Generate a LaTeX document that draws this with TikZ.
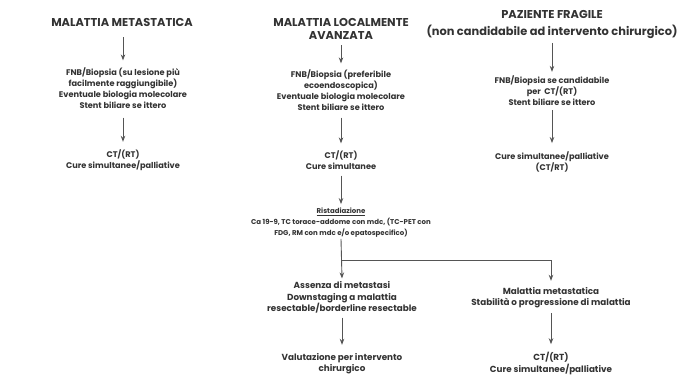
\documentclass[tikz,border=0pt]{standalone}
\usepackage{fontspec}
\setmainfont{Poppins}
\usetikzlibrary{arrows.meta}
\definecolor{txt}{HTML}{333333}
\definecolor{arr}{HTML}{555555}
\begin{document}
\begin{tikzpicture}[x=1pt,y=-1pt,
 title/.style={font=\fontsize{11.4}{13}\selectfont\bfseries, text=txt, align=center, inner sep=0pt},
 body/.style={font=\fontsize{8.2}{11}\selectfont\bfseries, text=txt, align=center, inner sep=0pt},
 small/.style={font=\fontsize{7}{11}\selectfont\bfseries},
 big/.style={font=\fontsize{8.8}{11.5}\selectfont\bfseries},
 arrow/.style={draw=arr, line width=0.9pt, -{Stealth[length=6pt,width=4.5pt]}},
 conn/.style={draw=arr, line width=0.9pt}]
\fill[white] (0,0) rectangle (683,384);
\useasboundingbox (0,0) rectangle (683,384);
% column 1
\node[title] (t1) at (122,22) {MALATTIA METASTATICA};
\node[body] (b1) at (123,88) {FNB/Biopsia (su lesione più\\facilmente raggiungibile)\\Eventuale biologia molecolare\\Stent biliare se ittero};
\node[body] (c1) at (123,160.5) {CT/(RT)\\Cure simultanee/palliative};
% column 2
\node[title] (t2) at (341,28.5) {MALATTIA LOCALMENTE\\AVANZATA};
\node[body] (b2) at (341,90) {FNB/Biopsia (preferibile\\ecoendoscopica)\\Eventuale biologia molecolare\\Stent biliare se ittero};
\node[body] (c2) at (341,160) {CT/(RT)\\Cure simultanee};
\node[body, small] (r2) at (341,223) {\underline{Ristadiazione}\\Ca 19-9, TC torace-addome con mdc, (TC-PET con\\FDG, RM con mdc e/o epatospecifico)};
\node[body, big] (a2) at (342,297.5) {Assenza di metastasi\\Downstaging a malattia\\resectable/borderline resectable};
\node[body, big] (v2) at (342,363.5) {Valutazione per intervento\\chirurgico};
% column 3
\node[title, font=\fontsize{11.4}{17}\selectfont\bfseries] (t3) at (552,24.5) {PAZIENTE FRAGILE\\(non candidabile ad intervento chirurgico)};
\node[body] (b3) at (552,91) {FNB/Biopsia se candidabile\\per\ \ CT/(RT)\\Stent biliare se ittero};
\node[body] (c3) at (552,161.5) {Cure simultanee/palliative\\(CT/RT)};
\node[body, big] (m3) at (551,297.5) {Malattia metastatica\\Stabilità o progressione di malattia};
\node[body, big] (k3) at (551,363.5) {CT/(RT)\\Cure simultanee/palliative};
% connectors
\draw[arrow] ([yshift=-11pt]t1.south -| b1) -- ([yshift=7pt]b1.north);
\draw[arrow] ([yshift=-9pt]b1.south) -- ([yshift=8pt]c1.north);
\draw[arrow] ([yshift=-6pt]t2.south) -- ([yshift=6pt]b2.north);
\draw[arrow] ([yshift=-7pt]b2.south) -- ([yshift=7pt]c2.north);
\draw[arrow] ([yshift=-6pt]c2.south) -- ([yshift=4pt]r2.north);
\draw[arrow] ([yshift=-1pt]r2.south) -- ([yshift=3pt]a2.north);
\coordinate (br0) at (341,260);
\coordinate (br1) at (551,260);
\draw[conn] (br0) -- (br1);
\draw[arrow] (br1) -- ([yshift=6pt]m3.north);
\draw[arrow] ([yshift=-4pt]a2.south) -- ([yshift=8pt]v2.north);
\draw[arrow] (551,313) -- ([yshift=8pt]k3.north);
\draw[arrow] ([yshift=-4pt]t3.south) -- ([yshift=4pt]b3.north);
\draw[arrow] ([yshift=-4pt]b3.south) -- ([yshift=8pt]c3.north);
\end{tikzpicture}
\end{document}
